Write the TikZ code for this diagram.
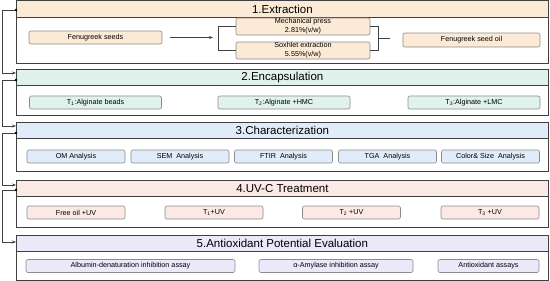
\documentclass[tikz,border=0pt]{standalone}
\usepackage{fontspec}
\setmainfont{Liberation Sans}
\usepackage{tikz}
\usetikzlibrary{calc,arrows.meta}
\definecolor{orangefill}{RGB}{251,234,213}
\definecolor{mintfill}{RGB}{224,242,235}
\definecolor{bluefill}{RGB}{224,236,249}
\definecolor{pinkfill}{RGB}{251,233,230}
\definecolor{lavfill}{RGB}{233,233,250}

\begin{document}
\begin{tikzpicture}[x=1pt,y=-1pt]
	\tikzset{secbox/.style = {draw=black!75, line width=0.8pt, fill=white, inner sep=0, anchor=north west, minimum width=532pt},
		headbox/.style = {draw=black!75, line width=0.8pt, inner sep=0, anchor=north west, minimum width=532pt, minimum height=16pt, font=\fontsize{11.5}{13}\selectfont},
		item/.style = {draw=black!45, line width=0.6pt, rounded corners=2pt, inner sep=0, minimum height=13pt, font=\fontsize{7.2}{9}\selectfont},
		conn/.style = {draw=black!75, line width=0.7pt},
		arr/.style = {conn, -{Stealth[length=4pt,width=3pt]}},
		dot/.style = {circle, fill=black, inner sep=0, minimum size=2.6pt}}
	\useasboundingbox (0,0) rectangle (550,281);
	% sections: number / top / bottom / colour / title
	\foreach \i/\t/\b/\c/\title in {1/0.5/63/orangefill/{1.Extraction},
			2/69/115/mintfill/{2.Encapsulation},
			3/122/171/bluefill/{3.Characterization},
			4/180/227/pinkfill/{4.UV-C Treatment},
			5/235/280/lavfill/{5.Antioxidant Potential Evaluation}}{
		\pgfmathsetmacro{\hgt}{\b-\t}
		\node[secbox, minimum height=\hgt pt] (s\i) at (16,\t) {};
		\node[headbox, fill=\c] (h\i) at (16,\t) {\title};
	}
	% 1. extraction
	\node[item, fill=orangefill, minimum width=133pt] (seeds) at (95.5,37.5) {Fenugreek seeds};
	\node[item, fill=orangefill, minimum width=134pt, minimum height=17pt, align=center] (mech) at (303,26.5) {Mechanical press\\2.81\%(v/w)};
	\node[item, fill=orangefill, minimum width=134pt, minimum height=17pt, align=center] (sox) at (303,50.5) {Soxhlet extraction\\5.55\%(v/w)};
	\node[item, fill=orangefill, minimum width=137pt, minimum height=14pt] (oil) at (471.5,40) {Fenugreek seed oil};
	\coordinate (brk) at (213,37.5);
	\coordinate (join) at (378,38.5);
	\draw[arr, shorten <=8pt] (seeds.east) -- (brk);
	\draw[conn] (mech.west) -- ++(-17,0) |- (sox.west);
	\draw[conn] (mech.east) -- ++(8,0) |- (sox.east);
	\draw[conn] (join) -- ++(12,0);
	% 2. encapsulation
	\foreach \n/\x/\txt in {t1/95.5/{T\textsubscript{1}:Alginate beads},
			t2/284/{T\textsubscript{2}:Alginate +HMC},
			t3/474/{T\textsubscript{3}:Alginate +LMC}}{
		\node[item, fill=mintfill, minimum width=132pt] (\n) at (\x,102.5) {\txt};
	}
	% 3. characterization
	\foreach \n/\x/\txt in {om/76/{OM Analysis}, sem/180/{SEM\ \ Analysis},
			ftir/283.5/{FTIR\ \ Analysis}, tga/387.5/{TGA\ \ Analysis},
			col/490.5/{Color\& Size\ \ Analysis}}{
		\node[item, fill=bluefill, minimum width=98pt] (\n) at (\x,156.5) {\txt};
	}
	% 4. uv-c treatment
	\foreach \n/\x/\txt in {free/76/{Free oil +UV}, u1/214/{T\textsubscript{1}+UV},
			u2/351.5/{T\textsubscript{2} +UV}, u3/490/{T\textsubscript{3} +UV}}{
		\node[item, fill=pinkfill, minimum width=98pt] (\n) at (\x,212.5) {\txt};
	}
	% 5. antioxidant evaluation
	\node[item, fill=lavfill, minimum width=209pt] (alb) at (130.5,266) {Albumin-denaturation inhibition assay};
	\node[item, fill=lavfill, minimum width=154pt] (amy) at (336,266) {α-Amylase inhibition assay};
	\node[item, fill=lavfill, minimum width=101pt] (anti) at (488.5,266) {Antioxidant assays};
	% links between sections
	\foreach \a/\ya/\b/\yb in {1/10/2/73, 2/80/3/126, 3/133/4/185, 4/190/5/242}{
		\coordinate (out\a) at (16,\ya);
		\coordinate (in\b) at (16,\yb);
		\draw[arr] (out\a) -- (2.5,\ya) |- (in\b);
		\node[dot] at (out\a) {};
	}
\end{tikzpicture}
\end{document}
